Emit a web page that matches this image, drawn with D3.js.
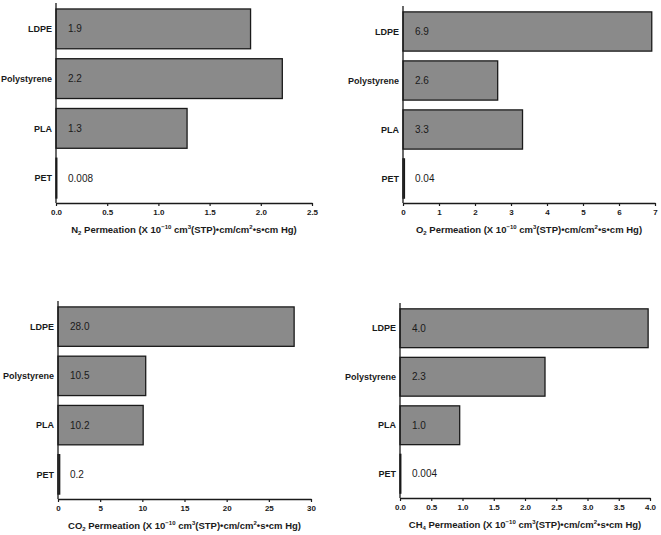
<!DOCTYPE html>
<html>
<head>
<meta charset="utf-8">
<script src="https://cdn.jsdelivr.net/npm/d3@7"></script>
<style>
  body { margin: 0; background: #fff; }
  svg { font-family: "Liberation Sans", Arial, sans-serif; }
</style>
</head>
<body>
<svg id="chart" width="661" height="535"></svg>
<script>
const categories = ["LDPE", "Polystyrene", "PLA", "PET"];

const n2Values = [1.9, 2.21, 1.28, 0.008];
const n2Labels = ["1.9", "2.2", "1.3", "0.008"];
const n2Ticks = [0, 0.5, 1.0, 1.5, 2.0, 2.5];

const o2Values = [6.91, 2.63, 3.32, 0.04];
const o2Labels = ["6.9", "2.6", "3.3", "0.04"];
const o2Ticks = [0, 1, 2, 3, 4, 5, 6, 7];

const co2Values = [28.0, 10.4, 10.1, 0.2];
const co2Labels = ["28.0", "10.5", "10.2", "0.2"];
const co2Ticks = [0, 5, 10, 15, 20, 25, 30];

const ch4Values = [3.97, 2.32, 0.955, 0.004];
const ch4Labels = ["4.0", "2.3", "1.0", "0.004"];
const ch4Ticks = [0, 0.5, 1.0, 1.5, 2.0, 2.5, 3.0, 3.5, 4.0];

const panels = [
  { gas: "N", sub: "2", values: n2Values, labels: n2Labels, ticks: n2Ticks, fmt: ".1f",
    x0: 56, x1: 312, y0: 4, y1: 203 },
  { gas: "O", sub: "2", values: o2Values, labels: o2Labels, ticks: o2Ticks, fmt: "d",
    x0: 403, x1: 655, y0: 7, y1: 203 },
  { gas: "CO", sub: "2", values: co2Values, labels: co2Labels, ticks: co2Ticks, fmt: "d",
    x0: 58, x1: 311, y0: 302, y1: 499 },
  { gas: "CH", sub: "4", values: ch4Values, labels: ch4Labels, ticks: ch4Ticks, fmt: ".1f",
    x0: 400, x1: 650, y0: 304, y1: 498 }
];

const svg = d3.select("#chart");
const ink = "#1a1a1a";

panels.forEach(p => {
  const dom = p.ticks[p.ticks.length - 1];
  const x = d3.scaleLinear().domain([0, dom]).range([p.x0, p.x1]);
  const y = d3.scaleBand().domain(categories).range([p.y0, p.y1])
    .paddingInner(0.2).paddingOuter(0.1);
  const g = svg.append("g");

  // bars
  g.selectAll("rect.bar").data(categories).enter().append("rect")
    .attr("class", "bar")
    .attr("x", x(0))
    .attr("y", d => y(d))
    .attr("width", (d, i) => Math.max(0.8, x(p.values[i]) - x(0)))
    .attr("height", y.bandwidth())
    .attr("fill", "#8a8a8a")
    .attr("stroke", ink)
    .attr("stroke-width", 1.3);

  // value labels
  g.selectAll("text.val").data(categories).enter().append("text")
    .attr("class", "val")
    .attr("x", x(0) + 12)
    .attr("y", d => y(d) + y.bandwidth() / 2)
    .attr("dy", "0.35em")
    .attr("font-size", 10)
    .attr("fill", ink)
    .text((d, i) => p.labels[i]);

  // category labels
  g.selectAll("text.cat").data(categories).enter().append("text")
    .attr("class", "cat")
    .attr("x", x(0) - 4)
    .attr("y", d => y(d) + y.bandwidth() / 2)
    .attr("dy", "0.35em")
    .attr("text-anchor", "end")
    .attr("font-size", 9)
    .attr("font-weight", "bold")
    .attr("fill", ink)
    .text(d => d);

  // y axis line
  g.append("line")
    .attr("x1", x(0)).attr("x2", x(0))
    .attr("y1", p.y0 - 1).attr("y2", p.y1)
    .attr("stroke", ink).attr("stroke-width", 1.3);

  // x axis
  const xa = d3.axisBottom(x).tickValues(p.ticks).tickSize(3).tickSizeOuter(0)
    .tickFormat(d3.format(p.fmt));
  const ag = g.append("g").attr("transform", `translate(0,${p.y1})`).call(xa);
  ag.select(".domain").attr("stroke", ink).attr("stroke-width", 1.3);
  ag.selectAll(".tick line").attr("stroke", ink).attr("stroke-width", 1.2);
  ag.selectAll(".tick text")
    .attr("font-size", 8).attr("font-weight", "bold").attr("fill", ink)
    .attr("font-family", "'Liberation Sans', Arial, sans-serif")
    .attr("y", 6);

  // axis title
  const t = g.append("text")
    .attr("x", (p.x0 + p.x1) / 2)
    .attr("y", p.y1 + 30)
    .attr("text-anchor", "middle")
    .attr("font-size", 9.5)
    .attr("font-weight", "bold")
    .attr("fill", ink);
  t.append("tspan").text(p.gas);
  t.append("tspan").attr("font-size", 6).attr("dy", 2).text(p.sub);
  t.append("tspan").attr("dy", -2).text(" Permeation (X 10");
  t.append("tspan").attr("font-size", 6).attr("dy", -4).text("\u221210");
  t.append("tspan").attr("dy", 4).text(" cm");
  t.append("tspan").attr("font-size", 6).attr("dy", -4).text("3");
  t.append("tspan").attr("dy", 4).text("(STP)\u2022cm/cm");
  t.append("tspan").attr("font-size", 6).attr("dy", -4).text("2");
  t.append("tspan").attr("dy", 4).text("\u2022s\u2022cm Hg)");
});
</script>
</body>
</html>
